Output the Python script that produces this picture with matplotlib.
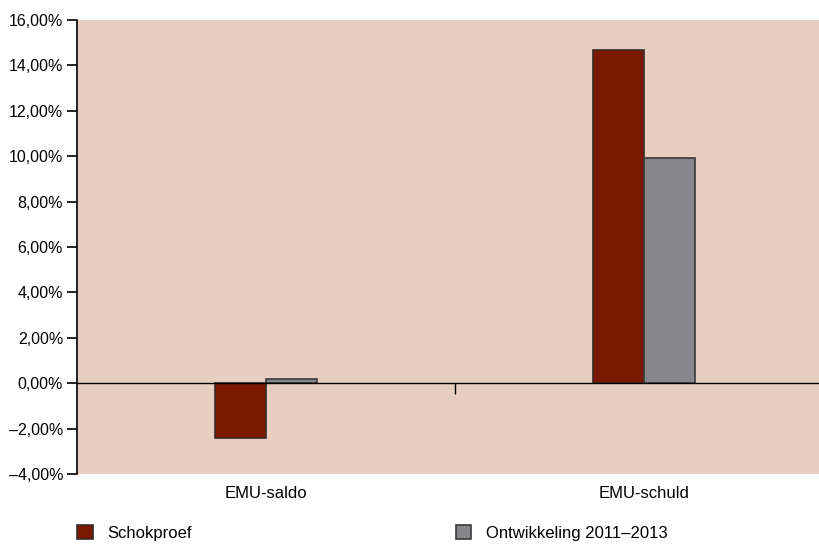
import numpy as np
import matplotlib.pyplot as plt
from matplotlib.ticker import FuncFormatter

# data (percent)
categories = ["EMU-saldo", "EMU-schuld"]
schokproef = [-2.42, 14.7]
ontwikkeling = [0.2, 9.9]
series_names = ["Schokproef", "Ontwikkeling 2011\u20132013"]

plt.rcParams['font.family'] = ['Liberation Sans', 'DejaVu Sans']

fig = plt.figure(figsize=(8.2, 5.45), dpi=100)
ax = fig.add_axes([0.0939, 0.1303, 0.9061, 0.833])
ax.set_facecolor("#E8CDC1")

x = np.arange(len(categories))
w = 0.134
ax.bar(x - w / 2, schokproef, w, color="#7A1800", edgecolor="#3a2a28", linewidth=1.2,
       label=series_names[0], zorder=2)
ax.bar(x + w / 2, ontwikkeling, w, color="#87878B", edgecolor="#3a3a3a", linewidth=1.2,
       label=series_names[1], zorder=2)

ax.set_ylim(-4, 16)
ax.set_yticks(np.arange(-4, 17, 2))
ax.yaxis.set_major_formatter(FuncFormatter(
    lambda v, p: f"{v:.2f}%".replace(".", ",").replace("-", "\u2013")))

# category axis drawn along zero line, tick between the groups
for s in ["top", "right"]:
    ax.spines[s].set_visible(False)
ax.spines["bottom"].set_position(("data", 0))
ax.spines["bottom"].set_linewidth(1.0)
ax.spines["bottom"].set_zorder(3)
ax.spines["left"].set_linewidth(1.2)
ax.set_xticks([0.5])
ax.set_xticklabels([])
ax.set_xlim(-0.5, 1.466)
ax.tick_params(axis="x", direction="out", length=8, width=1.0)
ax.tick_params(axis="y", direction="out", length=7, width=1.2, labelsize=11.5, pad=3)

sec = ax.secondary_xaxis("bottom")
sec.spines["bottom"].set_visible(False)
sec.set_xticks(x)
sec.set_xticklabels(categories, fontsize=12)
sec.tick_params(length=0, pad=9)

fig.legend(loc="upper left", bbox_to_anchor=(0.0857, 0.049), ncol=2, frameon=False,
           fontsize=12, handlelength=0.95, handleheight=0.95, handletextpad=0.9,
           columnspacing=15.8, borderaxespad=0)

fig.savefig("out.png", dpi=100)
